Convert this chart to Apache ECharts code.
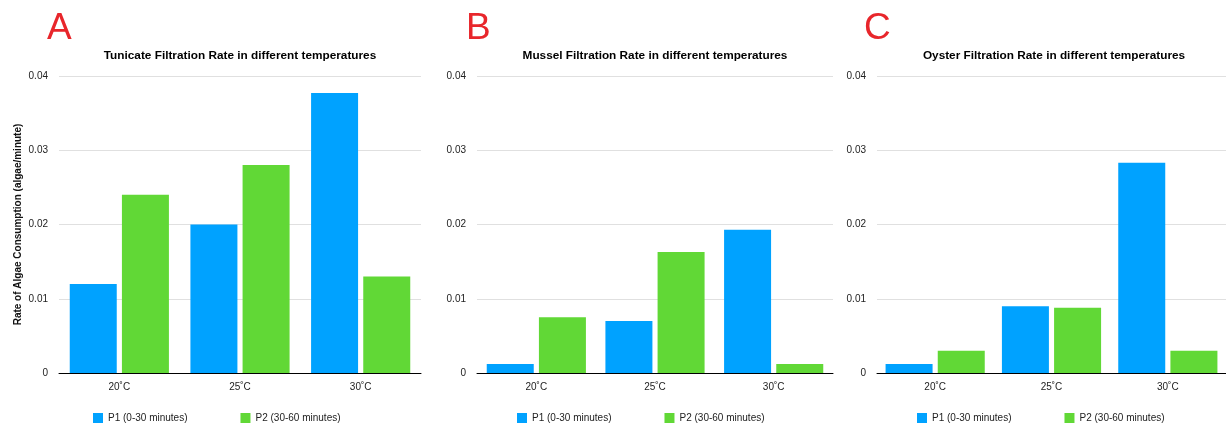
<!DOCTYPE html>
<html>
<head>
<meta charset="utf-8">
<script src="https://cdn.jsdelivr.net/npm/echarts@6/dist/echarts.min.js"></script>
<style>
    html, body { margin: 0; padding: 0; background: #fff; }
    #main { width: 1226px; height: 428px; }
</style>
</head>
<body>
<div id="main"></div>
<script>
var temps = ['20˚C', '25˚C', '30˚C'];
var yTicks = [0, 0.01, 0.02, 0.03, 0.04];
var seriesNames = ['P1 (0-30 minutes)', 'P2 (30-60 minutes)'];
var panelLetters = ['A', 'B', 'C'];
var panelTitles = [
    'Tunicate Filtration Rate in different temperatures',
    'Mussel Filtration Rate in different temperatures',
    'Oyster Filtration Rate in different temperatures'
];
var tunicateP1 = [0.012, 0.020, 0.0377];
var tunicateP2 = [0.024, 0.028, 0.013];
var musselP1 = [0.0012, 0.007, 0.0193];
var musselP2 = [0.0075, 0.0163, 0.0012];
var oysterP1 = [0.0012, 0.009, 0.0283];
var oysterP2 = [0.003, 0.0088, 0.003];

~function () {
    var myChart = echarts.init(document.getElementById('main'));
    var blue = '#00A2FF', green = '#61D836';
    var font = 'Liberation Sans, Arial, Helvetica, sans-serif';
    var panelData = [[tunicateP1, tunicateP2], [musselP1, musselP2], [oysterP1, oysterP2]];

    // panel geometry (px)
    var gridLeft = [59, 477, 877];
    var gridWidth = [362, 356, 356];
    var letterLeft = [47, 466, 864];
    var legendLeft = [88, 512, 912];
    var titleCenter = [240, 655, 1054];

    var title = [], grid = [], xAxis = [], yAxis = [], series = [], legend = [];
    for (var i = 0; i < 3; i++) {
        title.push({
            text: panelLetters[i],
            left: letterLeft[i],
            top: 10,
            padding: 0,
            textStyle: {color: '#E8262B', fontSize: 37, fontWeight: 'normal', fontFamily: font}
        });
        title.push({
            text: panelTitles[i],
            left: titleCenter[i],
            textAlign: 'center',
            top: 50,
            padding: 0,
            textStyle: {color: '#000', fontSize: 11.8, fontWeight: 'bold', fontFamily: font}
        });
        grid.push({left: gridLeft[i], width: gridWidth[i], top: 76, height: 297});
        xAxis.push({
            type: 'category',
            gridIndex: i,
            data: temps,
            axisTick: {show: false},
            axisLine: {lineStyle: {color: '#000', width: 1}},
            axisLabel: {color: '#222', fontSize: 10, margin: 9, fontFamily: font}
        });
        yAxis.push({
            type: 'value',
            gridIndex: i,
            min: yTicks[0],
            max: yTicks[yTicks.length - 1],
            interval: 0.01,
            name: i === 0 ? 'Rate of Algae Consumption (algae/minute)' : '',
            nameLocation: 'middle',
            nameGap: 36,
            nameTextStyle: {color: '#111', fontSize: 10, fontWeight: 'bold', fontFamily: font},
            axisLine: {show: false},
            axisTick: {show: false},
            splitLine: {lineStyle: {color: '#e0e0e0', width: 1}},
            axisLabel: {color: '#222', fontSize: 10, margin: 11, fontFamily: font}
        });
        legend.push({
            data: seriesNames,
            left: legendLeft[i],
            top: 408,
            itemWidth: 10,
            itemHeight: 10,
            itemGap: 53,
            icon: 'rect',
            textStyle: {color: '#222', fontSize: 10, fontFamily: font}
        });
        for (var s = 0; s < 2; s++) {
            series.push({
                name: seriesNames[s],
                type: 'bar',
                xAxisIndex: i,
                yAxisIndex: i,
                barWidth: 47,
                barGap: '11%',
                itemStyle: {color: s === 0 ? blue : green},
                data: panelData[i][s]
            });
        }
    }

    var option = {
        animation: false,
        title: title,
        legend: legend,
        grid: grid,
        xAxis: xAxis,
        yAxis: yAxis,
        series: series
    };
    myChart.setOption(option);
}();
</script>
</body>
</html>
